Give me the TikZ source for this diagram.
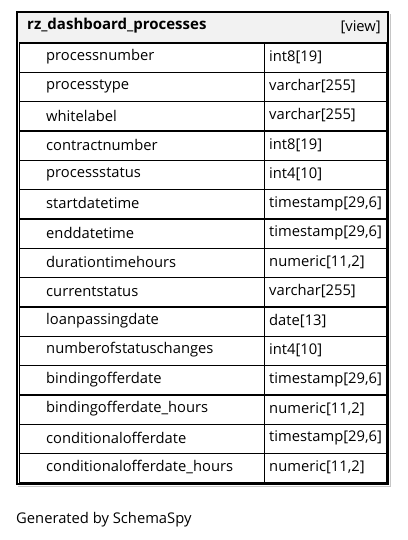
\documentclass[tikz,border=0pt]{standalone}
\usepackage{fontspec}
\setmainfont{Open Sans}
\begin{document}
\begin{tikzpicture}[x=1pt,y=-1pt,
  cell/.style={draw=black,line width=1.3pt,minimum height=29.33pt,inner sep=0pt,anchor=north west},
  fieldtxt/.style={font=\fontsize{14.75}{17}\selectfont,anchor=west,inner sep=0pt},
  headtxt/.style={font=\fontsize{15}{17}\selectfont\bfseries,anchor=west,inner sep=0pt},
  frame/.style={draw=black,line width=2.6pt}]
\useasboundingbox (0,0) rectangle (407,540);
% header band
\fill[gray!10] (17,13) rectangle (387,42.5);
\node[headtxt] (title) at (27,26) {rz\_dashboard\_processes};
\node[fieldtxt,anchor=east] (kind) at (381,27) {[view]};
% field rows
\foreach [count=\i from 0] \name/\type in {
  processnumber/int8[19],
  processtype/varchar[255],
  whitelabel/varchar[255],
  contractnumber/int8[19],
  processstatus/int4[10],
  startdatetime/timestamp[29{,}6],
  enddatetime/timestamp[29{,}6],
  durationtimehours/numeric[11{,}2],
  currentstatus/varchar[255],
  loanpassingdate/date[13],
  numberofstatuschanges/int4[10],
  bindingofferdate/timestamp[29{,}6],
  bindingofferdate\_hours/numeric[11{,}2],
  conditionalofferdate/timestamp[29{,}6],
  conditionalofferdate\_hours/numeric[11{,}2]} {
  \pgfmathsetmacro{\ytop}{42.5+\i*29.33}
  \node[cell,minimum width=245.5pt] (n\i) at (18.5,\ytop) {};
  \node[cell,minimum width=122pt] (t\i) at (264,\ytop) {};
  \node[fieldtxt] (nl\i) at ([xshift=27.5pt,yshift=1pt]n\i.west) {\name};
  \node[fieldtxt] (tl\i) at ([xshift=5pt,yshift=1pt]t\i.west) {\type};
}
% soft shadow and outer frame
\draw[gray!45,line width=1pt] (390,14) -- (390,486) -- (18,486);
\draw[frame] (17,12) rectangle (388,484);
\node[fieldtxt] (footer) at (16,520) {Generated by SchemaSpy};
\end{tikzpicture}
\end{document}
